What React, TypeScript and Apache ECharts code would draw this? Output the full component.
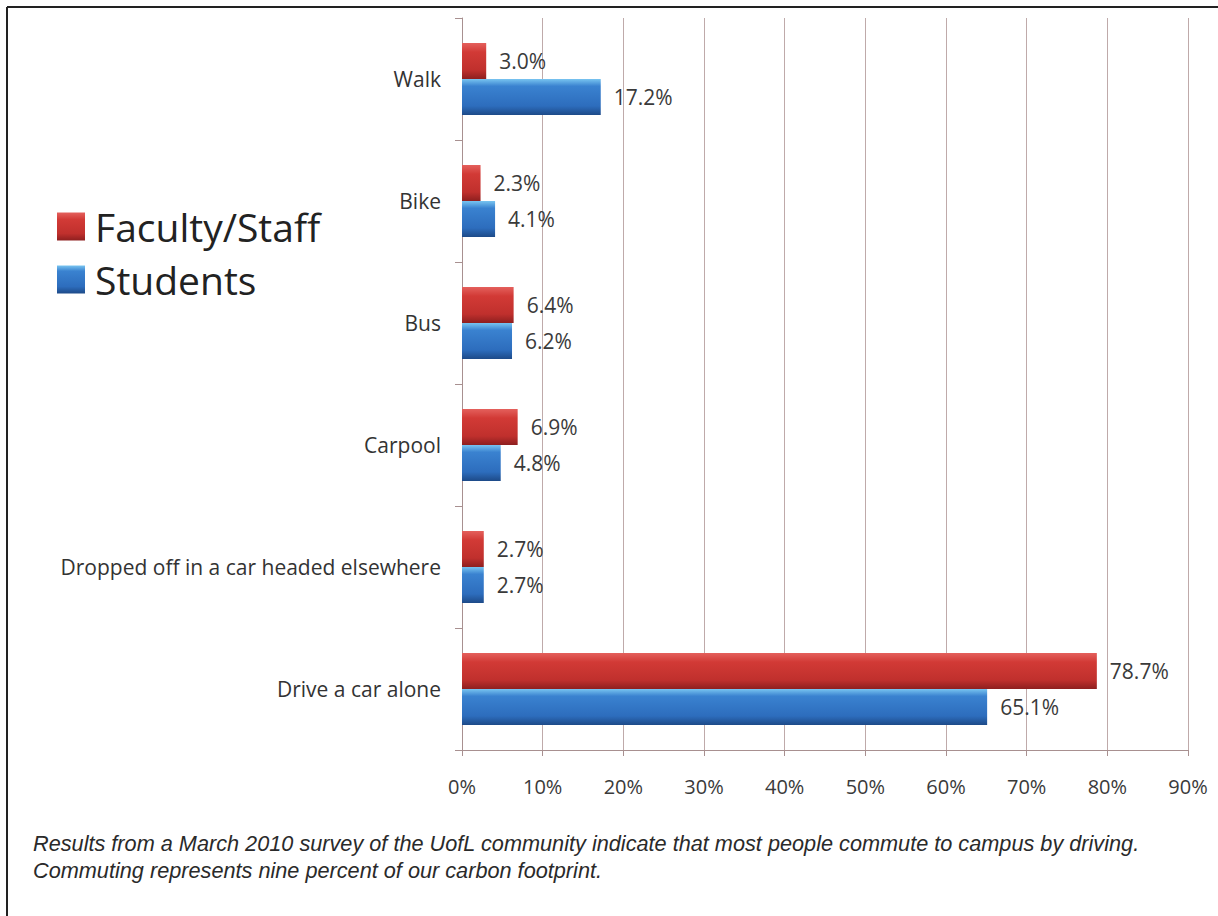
import React, { useEffect, useRef } from "react";
import * as echarts from "echarts";

const categories = ["Walk", "Bike", "Bus", "Carpool", "Dropped off in a car headed elsewhere", "Drive a car alone"];
const facultyStaff = [3.0, 2.3, 6.4, 6.9, 2.7, 78.7];
const students = [17.2, 4.1, 6.2, 4.8, 2.7, 65.1];
const seriesNames = ["Faculty/Staff", "Students"];
const captionLines = [
  "Results from a March 2010 survey of the UofL community indicate that most people commute to campus by driving.",
  "Commuting represents nine percent of our carbon footprint.",
];

const FONT = "'Open Sans', 'Noto Sans', sans-serif";

const redGrad = new echarts.graphic.LinearGradient(0, 0, 0, 1, [
  { offset: 0, color: "#e4605c" },
  { offset: 0.25, color: "#d23a36" },
  { offset: 0.75, color: "#c0302d" },
  { offset: 1, color: "#8e1f1f" },
]);
const blueGrad = new echarts.graphic.LinearGradient(0, 0, 0, 1, [
  { offset: 0, color: "#78c4f0" },
  { offset: 0.2, color: "#3a82d0" },
  { offset: 0.75, color: "#2d6dbd" },
  { offset: 1, color: "#1d4a88" },
]);

export default function App() {
  const ref = useRef<HTMLDivElement>(null);
  useEffect(() => {
    document.body.style.margin = "0";
    const chart = echarts.init(ref.current!, null, { renderer: "svg" });
    const labelCfg = {
      show: true,
      position: "right",
      distance: 13,
      fontSize: 21,
      fontFamily: FONT,
      color: "#3a3a3a",
      formatter: (p: any) => p.value.toFixed(1) + "%",
    };
    chart.setOption({
      animation: false,
      backgroundColor: "#ffffff",
      grid: { left: 462, right: 30, top: 18, bottom: 166 },
      legend: {
        orient: "vertical",
        left: 52,
        top: 202,
        itemWidth: 28,
        itemHeight: 28,
        itemGap: 14,
        icon: "rect",
        data: seriesNames,
        textStyle: { fontSize: 39, fontFamily: FONT, color: "#222", padding: [0, 0, 0, 5] },
      },
      xAxis: {
        type: "value",
        min: 0,
        max: 90,
        interval: 10,
        axisLine: { show: true, lineStyle: { color: "#a89090", width: 1 } },
        axisTick: { show: true, length: 6, lineStyle: { color: "#a89090" } },
        splitLine: { show: true, lineStyle: { color: "#bfaaaa", width: 1 } },
        axisLabel: {
          formatter: "{value}%",
          fontSize: 20,
          fontFamily: FONT,
          color: "#3a3a3a",
          margin: 26,
        },
      },
      yAxis: {
        type: "category",
        inverse: true,
        data: categories,
        axisLine: { show: true, lineStyle: { color: "#a89090", width: 1 } },
        axisTick: { show: true, length: 7, lineStyle: { color: "#a89090" } },
        axisLabel: { fontSize: 21, fontFamily: FONT, color: "#333", margin: 21 },
      },
      series: [
        {
          name: seriesNames[0],
          type: "bar",
          data: facultyStaff,
          barGap: "0%",
          barCategoryGap: "41%",
          itemStyle: { color: redGrad },
          label: labelCfg,
        },
        {
          name: seriesNames[1],
          type: "bar",
          data: students,
          barGap: "0%",
          barCategoryGap: "41%",
          itemStyle: { color: blueGrad },
          label: labelCfg,
        },
      ],
      graphic: [
        { type: "line", shape: { x1: 7, y1: 7, x2: 1218, y2: 7 }, style: { stroke: "#222", lineWidth: 2 } },
        { type: "line", shape: { x1: 7, y1: 7, x2: 7, y2: 916 }, style: { stroke: "#222", lineWidth: 2 } },
        ...captionLines.map((t, i) => ({
          type: "text",
          left: 33,
          top: 832 + i * 27,
          style: {
            text: t,
            fontSize: 21.7,
            fontStyle: "italic",
            fontFamily: "'Liberation Sans', Arial, sans-serif",
            fill: "#2a2a2a",
          },
        })),
      ],
    });
    return () => chart.dispose();
  }, []);
  return <div ref={ref} style={{ width: 1218, height: 916 }} />;
}
